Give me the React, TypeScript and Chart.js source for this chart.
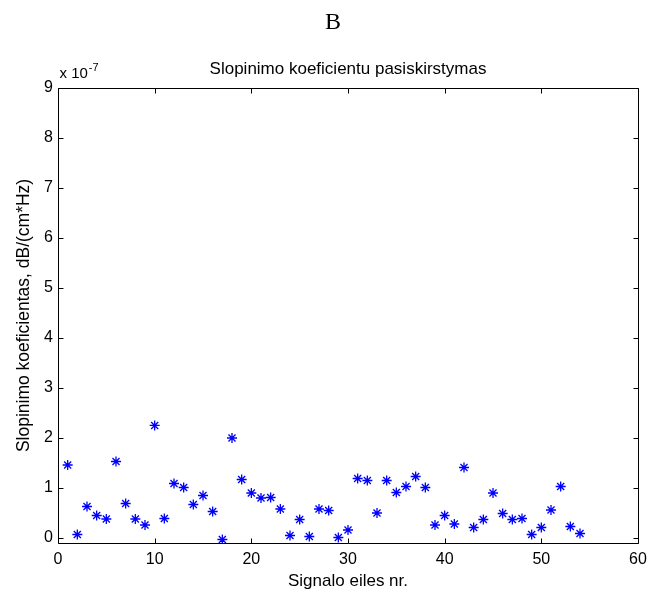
import React, { useEffect, useRef } from "react";
import { Chart, registerables } from "chart.js";

Chart.register(...registerables);

// ---- data ----
const SIGNAL_NO = [
  1, 2, 3, 4, 5, 6, 7, 8, 9, 10, 11, 12, 13, 14, 15, 16, 17, 18,
  19, 20, 21, 22, 23, 24, 25, 26, 27, 28, 29, 30, 31, 32, 33, 34, 35, 36,
  37, 38, 39, 40, 41, 42, 43, 44, 45, 46, 47, 48, 49, 50, 51, 52, 53, 54,
];
// attenuation coefficient, in units of 1e-7 dB/(cm*Hz)
const SLOPE_E7 = [
  1.46, 0.07, 0.63, 0.45, 0.38, 1.53, 0.69, 0.38, 0.26, 2.25, 0.39, 1.09, 1.01, 0.67, 0.85, 0.53, -0.03, 2.0,
  1.17, 0.9, 0.8, 0.81, 0.58, 0.05, 0.37, 0.03, 0.58, 0.55, 0.01, 0.16, 1.19, 1.15, 0.5, 1.15, 0.91, 1.03,
  1.23, 1.01, 0.26, 0.45, 0.28, 1.41, 0.21, 0.37, 0.9, 0.49, 0.37, 0.39, 0.07, 0.21, 0.56, 1.03, 0.23, 0.09,
];
const X_TICKS = [0, 10, 20, 30, 40, 50, 60];
const Y_TICKS = [0, 1, 2, 3, 4, 5, 6, 7, 8, 9];
const EXPONENT_BASE = "x 10";
const EXPONENT = "-7";

const FIG_LETTER = "B";
const TITLE = "Slopinimo koeficientu pasiskirstymas";
const X_LABEL = "Signalo eiles nr.";
const Y_LABEL = "Slopinimo koeficientas, dB/(cm*Hz)";

const SANS = '"Liberation Sans", Arial, sans-serif';
const SERIF = '"Liberation Serif", "Times New Roman", serif';

const boxPlugin = {
  id: "matlabBox",
  afterDraw(chart: any) {
    const { ctx, chartArea } = chart;
    const { left, right, top, bottom } = chartArea;
    const x = chart.scales.x;
    const y = chart.scales.y;
    const tl = 5;
    ctx.save();
    ctx.strokeStyle = "#000";
    ctx.lineWidth = 1;
    const L = Math.round(left) + 0.5;
    const R = Math.round(right) + 0.5;
    const T = Math.round(top) + 0.5;
    const B = Math.round(bottom) + 0.5;
    ctx.beginPath();
    ctx.rect(L, T, R - L, B - T);
    for (const v of X_TICKS) {
      const px = Math.round(x.getPixelForValue(v)) + 0.5;
      ctx.moveTo(px, B);
      ctx.lineTo(px, B - tl);
      ctx.moveTo(px, T);
      ctx.lineTo(px, T + tl);
    }
    for (const v of Y_TICKS) {
      const py = Math.round(y.getPixelForValue(v)) + 0.5;
      ctx.moveTo(L, py);
      ctx.lineTo(L + tl, py);
      ctx.moveTo(R, py);
      ctx.lineTo(R - tl, py);
    }
    ctx.stroke();
    ctx.fillStyle = "#000";
    ctx.textBaseline = "alphabetic";
    // figure letter, centred on the page
    ctx.textAlign = "center";
    ctx.font = `24px ${SERIF}`;
    ctx.fillText(FIG_LETTER, chart.width / 2, 29);
    // exponent label
    ctx.textAlign = "left";
    ctx.font = `15px ${SANS}`;
    ctx.fillText(EXPONENT_BASE, L + 1, T - 10.5);
    const w = ctx.measureText(EXPONENT_BASE).width;
    ctx.font = `11px ${SANS}`;
    ctx.fillText(EXPONENT, L + 2 + w, T - 18);
    ctx.restore();
  },
};

export default function App() {
  const ref = useRef<HTMLCanvasElement | null>(null);

  useEffect(() => {
    if (!ref.current) return;
    const chart = new Chart(ref.current, {
      type: "scatter",
      data: {
        datasets: [
          {
            data: SIGNAL_NO.map((n, i) => ({ x: n, y: SLOPE_E7[i] })),
            pointStyle: "star",
            radius: 5,
            borderWidth: 1.3,
            borderColor: "#0000ff",
            backgroundColor: "#0000ff",
          },
        ],
      },
      options: {
        responsive: false,
        animation: false,
        layout: { padding: { left: 0, right: 28, top: 0, bottom: 0 } },
        plugins: {
          legend: { display: false },
          tooltip: { enabled: false },
          title: { display: false },
          subtitle: {
            display: true,
            text: TITLE,
            color: "#000",
            fullSize: false,
            font: { family: SANS, size: 17, weight: "normal" },
            padding: { top: 59.5, bottom: 8 },
          },
        },
        scales: {
          x: {
            type: "linear",
            min: 0,
            max: 60,
            afterBuildTicks: (s: any) => {
              s.ticks = X_TICKS.map((v) => ({ value: v }));
            },
            afterFit: (s: any) => {
              s.height = 54;
            },
            grid: { display: false, drawTicks: false },
            border: { display: false },
            ticks: {
              color: "#000",
              padding: 7,
              maxRotation: 0,
              font: { family: SANS, size: 16 },
            },
            title: {
              display: true,
              text: X_LABEL,
              color: "#000",
              font: { family: SANS, size: 17 },
              padding: { top: 0, bottom: 5 },
            },
          },
          y: {
            type: "linear",
            min: -0.1,
            max: 9,
            afterBuildTicks: (s: any) => {
              s.ticks = Y_TICKS.map((v) => ({ value: v }));
            },
            afterFit: (s: any) => {
              s.width = 58;
            },
            grid: { display: false, drawTicks: false },
            border: { display: false },
            ticks: {
              color: "#000",
              padding: 5,
              font: { family: SANS, size: 16 },
            },
            title: {
              display: true,
              text: Y_LABEL,
              color: "#000",
              font: { family: SANS, size: 17.5 },
              padding: { top: 14, bottom: 0 },
            },
          },
        },
      },
      plugins: [boxPlugin],
    } as any);
    return () => chart.destroy();
  }, []);

  return (
    <div style={{ position: "absolute", left: 0, top: 0, width: 666, height: 597, background: "#fff" }}>
      <canvas ref={ref} width={666} height={597} style={{ display: "block" }} />
    </div>
  );
}
